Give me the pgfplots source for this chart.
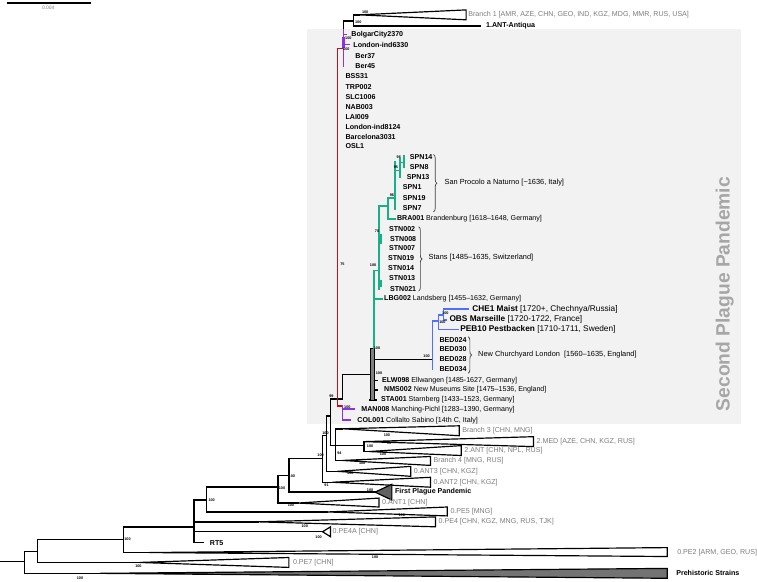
\documentclass[border=0pt]{standalone}
\usepackage{pgfplots}
\pgfplotsset{compat=1.18}
\usepackage{fontspec}
\setmainfont{Liberation Sans}
\usetikzlibrary{decorations.pathreplacing}
\definecolor{rd}{RGB}{205,10,25}
\definecolor{pu}{RGB}{140,50,230}
\definecolor{gr}{RGB}{25,175,135}
\definecolor{bu}{RGB}{80,110,255}
\definecolor{tg}{RGB}{125,125,125}
\definecolor{bgc}{RGB}{242,242,242}
\newcommand{\seg}[2][black]{\addplot[#1,line width=1.5pt,line cap=rect] coordinates {#2};}
\newcommand{\tri}[2][white]{\addplot[fill=#1,draw=black,line width=1.2pt,line join=miter] coordinates {#2} --cycle;}
\newcommand{\sv}[3]{\node[sup] at (axis cs:#1,#2) {#3};}
\newcommand{\lb}[3]{\node[lab] at (axis cs:#1,#2) {#3};}
\newcommand{\gl}[3]{\node[lab,text=tg] at (axis cs:#1,#2) {#3};}
\newcommand{\br}[3]{\draw[decorate,decoration={brace,amplitude=3.5pt},line width=0.7pt,black!75] (axis cs:#1,#2) -- (axis cs:#1,#3);}
\begin{document}
\begin{tikzpicture}[
 lab/.style={anchor=west,inner sep=0pt,font=\fontsize{7.2}{8}\selectfont},
 sup/.style={anchor=center,inner sep=0pt,font=\fontsize{3.8}{4}\selectfont\bfseries}]
\begin{axis}[scale only axis, width=757bp, height=587bp,
  xmin=0, xmax=757, ymin=0, ymax=587, y dir=reverse,
  hide axis, clip=false]
\addplot[fill=white,draw=none] coordinates {(0,0) (757,0) (757,587) (0,587)} --cycle;
\addplot[fill=bgc,draw=none] coordinates {(309,29) (748,29) (748,428) (309,428)} --cycle;
\node[rotate=90,inner sep=0pt,text=black!35,font=\fontsize{19.5}{20}\selectfont\bfseries] at (axis cs:731,297) {Second Plague Pandemic};
% scale bar
\addplot[black,line width=1.1pt] coordinates {(6,3) (91,3)};
\node[inner sep=0pt,text=tg,font=\fontsize{5}{6}\selectfont] at (axis cs:48,8) {0.004};
% backbone (black)
\seg{(0,567) (24,567)}
\seg{(24,557) (24,579)}
\seg{(24,557) (37,557)}
\seg{(37,545) (37,568)}
\seg{(24,579) (100,579)}
\seg{(37,568) (140,568)}
\seg{(37,545) (124,545)}
\seg{(124,532) (124,558)}
\seg{(124,558) (150,558)}
\seg{(124,532) (195,532)}
\seg{(195,505) (195,548)}
\addplot[black,line width=2.6pt] coordinates {(195,518) (195,536)};
\seg{(195,505) (208,505)}
\seg{(195,527) (260,527)}
\seg{(195,537) (325,537)}
\seg{(195,548) (205,548)}
\seg{(208,492) (208,517)}
\seg{(208,517) (330,517)}
\seg{(208,492) (280,492)}
\seg{(280,480) (280,508)}
\seg{(280,508) (300,508)}
\seg{(280,480) (291,480)}
\seg{(291,463) (291,497)}
\seg{(291,497) (378,497)}
\seg{(291,463) (325,463)}
\seg{(325,440) (325,487)}
\seg{(325,487) (335,487)}
\seg{(325,440) (329,440)}
\seg{(329,420) (329,476)}
\seg{(329,476) (340,476)}
\seg{(329,420) (333,420)}
\seg{(333,403) (333,450)}
\seg{(333,403) (345,403)}
\seg{(345,378) (345,403)}
\seg{(345,378) (373,378)}
\seg{(333,450) (338,450)}
\seg{(338,433) (338,465)}
\seg{(338,433) (345,433)}
\seg{(338,465) (345,465)}
\seg{(338,450) (367,450)}
\seg{(367,446) (367,456)}
\seg{(367,456) (372,456)}
% top branch 1
\seg{(346,21) (346,30)}
\seg{(346,21) (356,21)}
\seg{(356,15) (356,26)}
\seg{(356,15) (362,15)}
\addplot[black,line width=1.9pt] coordinates {(356,26) (485,26)};
% post black death black clade
\seg{(377,363) (436,363)}
\seg{(377,384) (380,384)}
\seg{(377,394) (380,394)}
\seg{(373,404) (379,404)}
\addplot[fill=black!50,draw=black,line width=0.8pt] coordinates {(373,352) (377,352) (377,404) (373,404)} --cycle;
% red
\addplot[rd,line width=1.8pt,line cap=rect] coordinates {(340,49) (340,410)};
\seg[rd]{(340,49) (346,49)}
\seg[rd]{(340,410) (345,410)}
% purple
\seg[pu]{(346,30) (346,67)}
\addplot[pu,line width=2.6pt] coordinates {(346,37) (346,48)};
\seg[pu]{(346,35) (349,35)}
\seg[pu]{(346,45) (352,45)}
\seg[pu]{(345,410) (345,424)}
\seg[pu]{(345,413) (357,413)}
\seg[pu]{(345,424) (353,424)}
% green
\seg[gr]{(377,273) (377,352)}
\seg[gr]{(377,302) (385,302)}
\seg[gr]{(377,273) (382,273)}
\seg[gr]{(382,208) (382,292)}
\addplot[gr,line width=1.6pt] coordinates {(384,236) (384,246)};
\addplot[gr,line width=1.6pt] coordinates {(384,283) (384,290)};
\seg[gr]{(382,208) (391,208)}
\seg[gr]{(391,200) (391,221)}
\seg[gr]{(391,221) (398,221)}
\seg[gr]{(391,200) (398,200)}
\seg[gr]{(398,163) (398,211)}
\seg[gr]{(398,172) (403,172)}
\seg[gr]{(403,160) (403,179)}
\seg[gr]{(403,164) (407,164)}
\seg[gr]{(407,157) (407,169)}
% blue
\seg[bu]{(436,324) (436,373)}
\seg[bu]{(436,324) (442,324)}
\seg[bu]{(442,318) (442,333)}
\seg[bu]{(442,333) (462,333)}
\seg[bu]{(442,318) (447,318)}
\seg[bu]{(447,312) (447,323)}
\seg[bu]{(447,312) (472,312)}
\seg[bu]{(447,323) (450,323)}
% collapsed clades
\tri{(362,15) (470,10) (470,20)}
\tri{(345,433) (463,430) (463,440)}
\tri{(367,446) (538,441) (538,451)}
\tri{(372,456) (465,450) (465,460)}
\tri{(345,465) (434,461) (434,470)}
\tri{(340,476) (414,471) (414,481)}
\tri{(335,487) (434,482) (434,492)}
\tri[black!62]{(378,497) (395,489) (395,505)}
\tri{(300,508) (382,503) (382,512)}
\tri{(330,517) (451,512) (451,521)}
\tri{(260,527) (439,522) (439,532)}
\tri{(325,537) (333,532) (333,542)}
\tri{(150,558) (673,553) (673,562)}
\tri{(140,568) (291,563) (291,573)}
\tri[black!55]{(100,579) (673,574) (673,584)}
% braces
\br{437}{156}{214}
\br{422}{229}{294}
\br{472}{340}{377}
% tip labels
\gl{472}{15}{Branch 1 [AMR, AZE, CHN, GEO, IND, KGZ, MDG, MMR, RUS, USA]}
\lb{490}{26}{\bfseries 1.ANT-Antiqua}
\lb{354}{35}{\bfseries BolgarCity2370}
\lb{356}{45}{\bfseries London-ind6330}
\lb{358}{57}{\bfseries Ber37}
\lb{358}{67}{\bfseries Ber45}
\lb{348}{77}{\bfseries BSS31}
\lb{348}{88}{\bfseries TRP002}
\lb{348}{98}{\bfseries SLC1006}
\lb{348}{108}{\bfseries NAB003}
\lb{348}{118}{\bfseries LAI009}
\lb{348}{128}{\bfseries London-ind8124}
\lb{348}{138}{\bfseries Barcelona3031}
\lb{348}{148}{\bfseries OSL1}
\lb{413}{159}{\bfseries SPN14}
\lb{413}{169}{\bfseries SPN8}
\lb{410}{179}{\bfseries SPN13}
\lb{406}{189}{\bfseries SPN1}
\lb{406}{200}{\bfseries SPN19}
\lb{406}{210}{\bfseries SPN7}
\lb{400}{221}{{\bfseries BRA001} Brandenburg [1618–1648, Germany]}
\lb{392}{231}{\bfseries STN002}
\lb{393}{241}{\bfseries STN008}
\lb{392}{251}{\bfseries STN007}
\lb{391}{261}{\bfseries STN019}
\lb{391}{271}{\bfseries STN014}
\lb{392}{281}{\bfseries STN013}
\lb{393}{292}{\bfseries STN021}
\lb{387}{302}{{\bfseries LBG002} Landsberg [1455–1632, Germany]}
\node[lab,font=\fontsize{8.4}{9}\selectfont] at (axis cs:476,312) {{\bfseries CHE1 Maist} [1720+, Chechnya/Russia]};
\node[lab,font=\fontsize{8.4}{9}\selectfont] at (axis cs:453,323) {{\bfseries OBS Marseille} [1720-1722, France]};
\node[lab,font=\fontsize{8.4}{9}\selectfont] at (axis cs:464,333) {{\bfseries PEB10 Pestbacken} [1710-1711, Sweden]};
\lb{443}{343}{\bfseries BED024}
\lb{443}{353}{\bfseries BED030}
\lb{443}{363}{\bfseries BED028}
\lb{443}{373}{\bfseries BED034}
\node[lab,font=\fontsize{7.5}{8}\selectfont] at (axis cs:448,184) {San Procolo a Naturno [\textasciitilde1636, Italy]};
\node[lab,font=\fontsize{7.5}{8}\selectfont] at (axis cs:432,260) {Stans [1485–1635, Switzerland]};
\node[lab,font=\fontsize{7.5}{8}\selectfont] at (axis cs:482,358) {New Churchyard London\ \ [1560–1635, England]};
\lb{385}{384}{{\bfseries ELW098} Ellwangen [1485-1627, Germany]}
\lb{387}{394}{{\bfseries NMS002} New Museums Site [1475–1536, England]}
\lb{384}{404}{{\bfseries STA001} Starnberg [1433–1523, Germany]}
\lb{364}{414}{{\bfseries MAN008} Manching-Pichl [1283–1390, Germany]}
\lb{360}{425}{{\bfseries COL001} Collalto Sabino [14th C, Italy]}
\gl{466}{435}{Branch 3 [CHN, MNG]}
\gl{541}{446}{2.MED [AZE, CHN, KGZ, RUS]}
\gl{468}{455}{2.ANT [CHN, NPL, RUS]}
\gl{437}{465}{Branch 4 [MNG, RUS]}
\gl{417}{476}{0.ANT3 [CHN, KGZ]}
\gl{437}{487}{0.ANT2 [CHN, KGZ]}
\lb{398}{497}{\bfseries First Plague Pandemic}
\gl{385}{508}{0.ANT1 [CHN]}
\gl{454}{517}{0.PE5 [MNG]}
\gl{442}{527}{0.PE4 [CHN, KGZ, MNG, RUS, TJK]}
\gl{335}{537}{0.PE4A [CHN]}
\lb{211}{548}{\bfseries RT5}
\gl{683}{558}{0.PE2 [ARM, GEO, RUS]}
\gl{295}{568}{0.PE7 [CHN]}
\lb{682}{579}{\bfseries Prehistoric Strains}
% support values
\sv{368}{12}{100}
\sv{361}{22}{100}
\sv{351}{39}{100}
\sv{349}{50}{100}
\sv{402}{159}{96}
\sv{399}{169}{95}
\sv{395}{197}{96}
\sv{380}{233}{70}
\sv{376}{268}{100}
\sv{345}{267}{75}
\sv{449}{316}{100}
\sv{446}{325}{100}
\sv{430}{360}{100}
\sv{380}{352}{100}
\sv{382}{377}{100}
\sv{350}{411}{100}
\sv{334}{400}{99}
\sv{328}{437}{100}
\sv{323}{460}{100}
\sv{342}{458}{94}
\sv{373}{451}{100}
\sv{392}{448}{99}
\sv{386}{459}{100}
\sv{390}{439}{100}
\sv{365}{468}{100}
\sv{353}{478}{100}
\sv{329}{490}{91}
\sv{373}{495}{100}
\sv{294}{481}{100}
\sv{284}{493}{100}
\sv{293}{510}{100}
\sv{213}{505}{100}
\sv{405}{520}{100}
\sv{307}{531}{100}
\sv{321}{543}{100}
\sv{128}{545}{100}
\sv{378}{563}{100}
\sv{139}{572}{100}
\sv{80}{584}{100}
\end{axis}
\end{tikzpicture}
\end{document}
